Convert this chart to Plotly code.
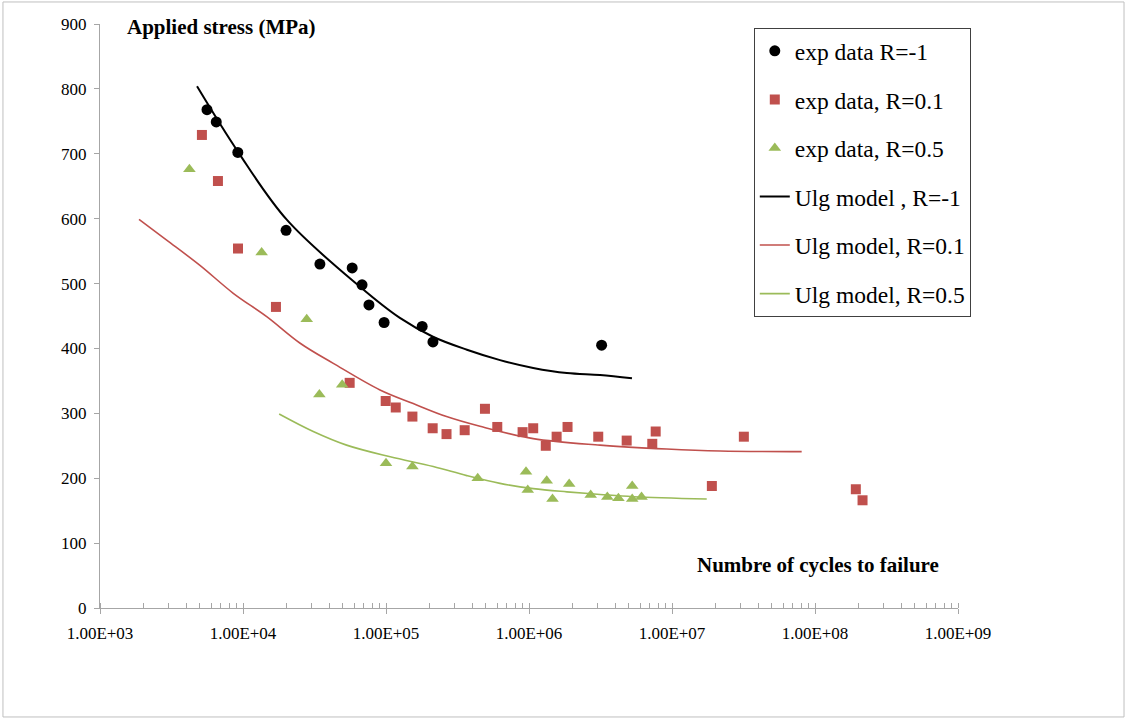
import plotly.graph_objects as go

# ---------------- data ----------------
# experimental data, R = -1
exp_m1_n = [5600, 6500, 9200, 20000, 34500, 58000, 68000, 76000, 97000, 179000, 213000, 3220000]
exp_m1_s = [768, 749, 702, 582, 530, 524, 498, 467, 440, 434, 410, 405]

# experimental data, R = 0.1
exp_01_n = [5160, 6680, 9230, 17000, 55700, 99500, 117000, 153000, 212000, 265000, 355000,
            492000, 600000, 902000, 1070000, 1310000, 1560000, 1860000, 3050000, 4820000,
            7280000, 7690000, 19000000, 31800000, 193000000, 215000000]
exp_01_s = [729, 658, 554, 464, 347, 319, 309, 295, 277, 268, 274,
            307, 279, 271, 277, 250, 264, 279, 264, 258,
            253, 272, 188, 264, 183, 166]

# experimental data, R = 0.5
exp_05_n = [4220, 13500, 27900, 34200, 49400, 100000, 153000, 438000, 953000, 980000,
            1330000, 1460000, 1910000, 2700000, 3530000, 4220000, 5270000, 5270000, 6120000]
exp_05_s = [676, 548, 445, 329, 344, 223, 218, 200, 210, 182,
            196, 168, 191, 174, 171, 169, 188, 168, 171]

# Ulg model curves
mod_m1_n = [4770, 9230, 20300, 65800, 125000, 213000, 368000, 627000, 1070000, 1840000, 3140000, 5250000]
mod_m1_s = [804, 703, 598, 495, 447, 418, 398, 382, 370, 362, 359, 354]

mod_01_n = [1874, 2925, 5000, 8550, 14650, 25100, 42800, 90800, 155000, 265000, 454000,
            1070000, 3140000, 9180000, 21700000, 80700000]
mod_01_s = [599, 567, 528, 485, 449, 408, 377, 336, 315, 295, 280,
            261, 251, 245, 242, 241]

mod_05_n = [17900, 31000, 53000, 107000, 214000, 367000, 627000, 1070000, 1840000, 3140000, 5360000, 17500000]
mod_05_s = [299, 272, 251, 233, 218, 204, 192, 184, 179, 175, 171.5, 168]

# axis ticks
x_tickvals = [1e3, 1e4, 1e5, 1e6, 1e7, 1e8, 1e9]
x_ticktext = ["1.00E+03", "1.00E+04", "1.00E+05", "1.00E+06", "1.00E+07", "1.00E+08", "1.00E+09"]
x_minorvals = [m * d for d in [1e3, 1e4, 1e5, 1e6, 1e7, 1e8] for m in range(1, 10)] + [1e9]
y_tickvals = [0, 100, 200, 300, 400, 500, 600, 700, 800, 900]

# ---------------- style ----------------
BLACK = "#000000"
RED = "#C0504D"
GREEN = "#9BBB59"
AXIS = "#A6A6A6"
FONT = "Liberation Serif"

fig = go.Figure()

fig.add_trace(go.Scatter(x=exp_m1_n, y=exp_m1_s, mode="markers", name="exp data R=-1",
                         legendgroup="a",
                         marker=dict(symbol="circle", size=11, color=BLACK)))
fig.add_trace(go.Scatter(x=exp_01_n, y=exp_01_s, mode="markers", name="exp data, R=0.1",
                         legendgroup="b",
                         marker=dict(symbol="square", size=10, color=RED)))
fig.add_trace(go.Scatter(x=exp_05_n, y=exp_05_s, mode="markers", name="exp data, R=0.5",
                         legendgroup="c",
                         marker=dict(symbol="triangle-up", size=11, color=GREEN)))
fig.add_trace(go.Scatter(x=mod_m1_n, y=mod_m1_s, mode="lines", name="Ulg model , R=-1",
                         legendgroup="d",
                         line=dict(color=BLACK, width=2, shape="spline")))
fig.add_trace(go.Scatter(x=mod_01_n, y=mod_01_s, mode="lines", name="Ulg model, R=0.1",
                         legendgroup="e",
                         line=dict(color=RED, width=1.6, shape="spline")))
fig.add_trace(go.Scatter(x=mod_05_n, y=mod_05_s, mode="lines", name="Ulg model, R=0.5",
                         legendgroup="f",
                         line=dict(color=GREEN, width=1.6, shape="spline")))

fig.update_layout(
    width=1128, height=719,
    margin=dict(l=100, r=170, t=24, b=111),
    paper_bgcolor="white", plot_bgcolor="white",
    font=dict(family=FONT, size=17, color="black"),
    showlegend=True,
    legend=dict(
        x=0.762, y=0.993, xanchor="left", yanchor="top",
        bgcolor="white", bordercolor="#404040", borderwidth=1,
        font=dict(family=FONT, size=23.5, color="black"),
        tracegroupgap=15,
        itemwidth=30,
    ),
    xaxis=dict(
        type="log", range=[3, 9],
        tickmode="array", tickvals=x_tickvals, ticktext=x_ticktext,
        ticks="outside", ticklen=5, tickcolor=AXIS, tickwidth=1,
        showline=True, linecolor=AXIS, linewidth=1,
        showgrid=False, zeroline=False,
        tickfont=dict(family=FONT, size=17, color="black"),
        ticklabelstandoff=5,
        minor=dict(tickmode="array", tickvals=x_minorvals, ticks="inside",
                   ticklen=5, tickcolor=AXIS, tickwidth=1, showgrid=False),
    ),
    yaxis=dict(
        range=[0, 900],
        tickmode="array", tickvals=y_tickvals,
        ticks="outside", ticklen=5, tickcolor=AXIS, tickwidth=1,
        showline=True, linecolor=AXIS, linewidth=1,
        showgrid=False, zeroline=False,
        tickfont=dict(family=FONT, size=17, color="black"),
        ticklabelstandoff=4,
    ),
    annotations=[
        dict(text="<b>Applied stress (MPa)</b>", xref="paper", yref="paper",
             x=0.029, y=0.995, xanchor="left", yanchor="middle", showarrow=False,
             font=dict(family=FONT, size=21, color="black")),
        dict(text="<b>Numbre of cycles to failure</b>", xref="paper", yref="paper",
             x=0.694, y=0.074, xanchor="left", yanchor="middle", showarrow=False,
             font=dict(family=FONT, size=21, color="black")),
    ],
    shapes=[
        dict(type="rect", xref="paper", yref="paper",
             x0=-0.1131, x1=1.1935, y0=-0.1866, y1=1.0377,
             line=dict(color="#BFBFBF", width=1), fillcolor="rgba(0,0,0,0)", layer="below"),
    ],
)

fig.write_html("out.html",
               config={"displayModeBar": False},
               post_script="document.body.style.margin='0';document.body.style.overflow='hidden';")
